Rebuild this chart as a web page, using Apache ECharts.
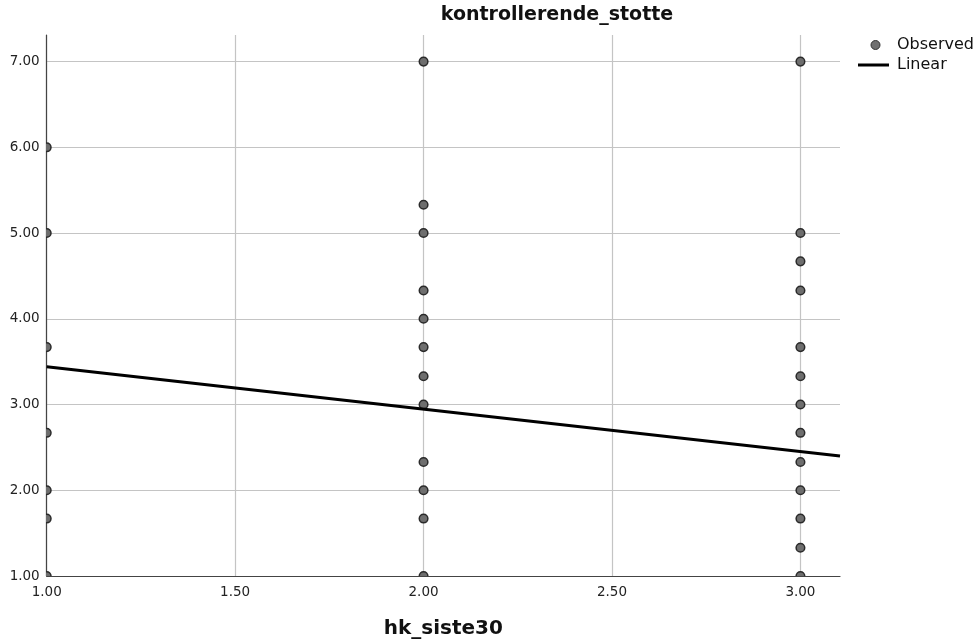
<!DOCTYPE html>
<html>
<head>
<meta charset="utf-8">
<script src="https://cdn.jsdelivr.net/npm/echarts@6/dist/echarts.min.js"></script>
<style>
html,body{margin:0;padding:0;background:#fff;overflow:hidden;}
#chart{width:977px;height:642px;}
</style>
</head>
<body>
<div id="chart"></div>
<script>
// Observed values, grouped by hk_siste30
const x1Values = [6.00, 5.00, 3.67, 2.67, 2.00, 1.67, 1.00];
const x2Values = [7.00, 5.33, 5.00, 4.33, 4.00, 3.67, 3.33, 3.00, 2.33, 2.00, 1.67, 1.00];
const x3Values = [7.00, 5.00, 4.67, 4.33, 3.67, 3.33, 3.00, 2.67, 2.33, 2.00, 1.67, 1.33, 1.00];
const groupX = [1, 2, 3];
// Linear fit endpoints (x, y)
const linearX = [1.0, 3.105];
const linearY = [3.44, 2.40];

const titleText = 'kontrollerende_stotte';
const xName = 'hk_siste30';

const observed = [];
[x1Values, x2Values, x3Values].forEach((vals, i) => {
  vals.forEach(v => observed.push([groupX[i], v]));
});
const linear = linearX.map((x, i) => [x, linearY[i]]);

const font = 'DejaVu Sans';
const chart = echarts.init(document.getElementById('chart'));
chart.setOption({
  animation: false,
  backgroundColor: '#fff',
  title: {
    text: titleText,
    left: 557, top: 6, textAlign: 'center', padding: 0,
    textStyle: {fontFamily: font, fontWeight: 'bold', fontSize: 19, color: '#111'}
  },
  legend: [
    {
      data: [{name: 'Observed', icon: 'circle'}],
      left: 870.5, top: 37, padding: 0, itemWidth: 9, itemHeight: 9, itemGap: 0,
      textStyle: {fontFamily: font, fontSize: 16, color: '#111', padding: [0, 0, 0, 12]},
      itemStyle: {color: '#707070', borderColor: '#333', borderWidth: 1}
    },
    {
      data: [{name: 'Linear', icon: 'rect'}],
      left: 858, top: 57, padding: 0, itemWidth: 31, itemHeight: 3, itemGap: 0,
      textStyle: {fontFamily: font, fontSize: 16, color: '#111', padding: [0, 0, 0, 3]},
      itemStyle: {color: '#000', borderWidth: 0}
    }
  ],
  grid: {left: 46.7, right: 137, top: 35, bottom: 66, containLabel: false, outerBoundsMode: 'none'},
  xAxis: {
    type: 'value', min: 1, max: 3.105, interval: 0.5,
    name: xName, nameLocation: 'middle', nameGap: 43,
    nameTextStyle: {fontFamily: font, fontWeight: 'bold', fontSize: 20, color: '#111'},
    axisLine: {show: true, lineStyle: {color: '#444', width: 1.2}},
    axisTick: {show: false},
    axisLabel: {fontFamily: font, fontSize: 13.5, color: '#222', margin: 9, showMaxLabel: false,
      formatter: v => v.toFixed(2)},
    splitLine: {show: true, showMaxLine: false, lineStyle: {color: '#c4c4c4', width: 1.2}}
  },
  yAxis: {
    type: 'value', min: 1, max: 7.31, interval: 1,
    axisLine: {show: true, onZero: false, lineStyle: {color: '#444', width: 1.2}},
    axisTick: {show: false},
    axisLabel: {fontFamily: font, fontSize: 13.5, color: '#222', margin: 7, showMaxLabel: false,
      formatter: v => v.toFixed(2)},
    splitLine: {show: true, showMaxLine: false, lineStyle: {color: '#c4c4c4', width: 1.2}}
  },
  series: [
    {
      name: 'Observed', type: 'custom', data: observed, clip: true, z: 3,
      encode: {x: 0, y: 1},
      itemStyle: {color: '#707070'},
      renderItem: function (params, api) {
        const p = api.coord([api.value(0), api.value(1)]);
        return {
          type: 'circle',
          shape: {cx: p[0], cy: p[1], r: 4.3},
          style: {fill: '#6e6e6e', stroke: '#2a2a2a', lineWidth: 1.5}
        };
      }
    },
    {
      name: 'Linear', type: 'line', data: linear, showSymbol: false, symbol: 'none',
      clip: true, z: 4,
      lineStyle: {color: '#000', width: 3}, itemStyle: {color: '#000'}
    }
  ]
});
</script>
</body>
</html>
